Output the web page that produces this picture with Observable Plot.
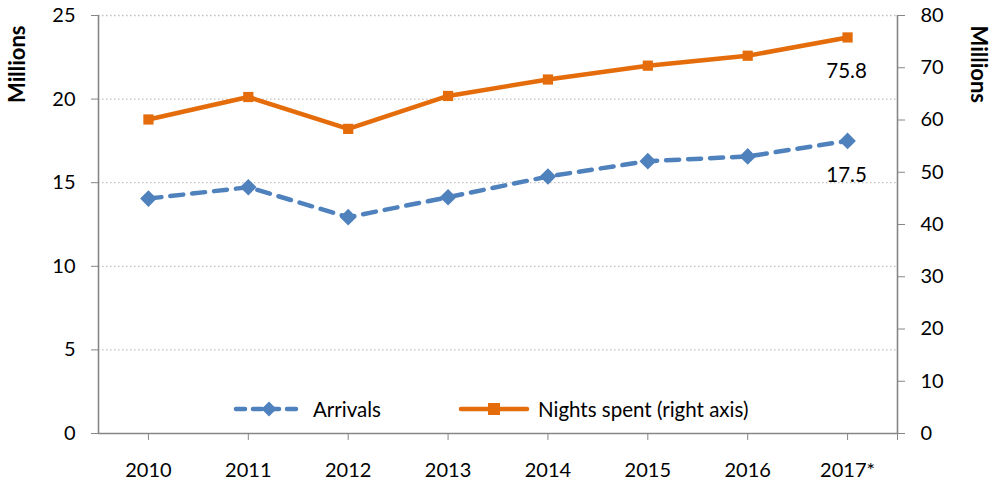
<!DOCTYPE html>
<html>
<head>
<meta charset="utf-8">
<script src="https://cdn.jsdelivr.net/npm/d3@7"></script>
<script src="https://cdn.jsdelivr.net/npm/@observablehq/plot@0.6"></script>
<style>
  html, body { margin: 0; padding: 0; background: #fff; }
  #wrap { position: relative; width: 992px; height: 486px; font-family: Lato, "Open Sans", sans-serif; }
  .legend { position: absolute; top: 397px; display: flex; align-items: center; font-size: 20.5px; color: #000; }
  .legend svg { display: block; margin-right: 8px; }
</style>
</head>
<body>
<div id="wrap"></div>
<script>
const years = ["2010", "2011", "2012", "2013", "2014", "2015", "2016", "2017*"];
const arrivals = [14.05, 14.73, 12.94, 14.13, 15.37, 16.29, 16.57, 17.5];
const nights = [60.1, 64.4, 58.3, 64.6, 67.75, 70.4, 72.3, 75.8];
const leftTicks = [0, 5, 10, 15, 20, 25];
const rightTicks = [0, 10, 20, 30, 40, 50, 60, 70, 80];
const leftMax = 25, rightMax = 80;
const k = leftMax / rightMax;

const blue = "#4f81bd", orange = "#e46c0a", axisGrey = "#868686";

const rowsA = years.map((y, i) => ({i, year: y, v: arrivals[i]}));
const rowsN = years.map((y, i) => ({i, year: y, v: nights[i], vs: nights[i] * k}));
const lastA = rowsA.slice(-1), lastN = rowsN.slice(-1);
const xTicks = d3.range(years.length).concat([years.length - 0.5]);

const chart = Plot.plot({
  width: 992, height: 486,
  marginLeft: 98, marginRight: 95, marginTop: 15, marginBottom: 53,
  style: {fontFamily: "Lato, 'Open Sans', sans-serif", fontSize: "20px", color: "#000", background: "#fff"},
  x: {type: "linear", domain: [-0.5, years.length - 0.5]},
  y: {type: "linear", domain: [0, leftMax]},
  marks: [
    Plot.ruleY(leftTicks.filter(d => d > 0), {stroke: "#bfbfbf", strokeWidth: 1.3, strokeDasharray: "1.5,2.5", strokeOpacity: 1}),
    Plot.axisY({anchor: "left", ticks: leftTicks, tickSize: 7, tickPadding: 16, label: null, stroke: axisGrey, fontSize: 20}),
    Plot.axisY({anchor: "right", ticks: rightTicks.map(d => d * k), tickFormat: d => String(Math.round(d / k)), tickSize: 7, tickPadding: 16, label: null, stroke: axisGrey, fontSize: 20}),
    Plot.axisX({ticks: xTicks, tickFormat: i => Number.isInteger(i) ? years[i] : "", tickSize: 7, tickPadding: 22, label: null, stroke: axisGrey, fontSize: 20}),
    Plot.ruleX([-0.5], {stroke: axisGrey, strokeWidth: 1.6}),
    Plot.ruleX([years.length - 0.5], {stroke: axisGrey, strokeWidth: 1.6}),
    Plot.ruleY([0], {stroke: axisGrey, strokeWidth: 1.6}),
    Plot.line(rowsA, {x: "i", y: "v", stroke: blue, strokeWidth: 4.5, strokeDasharray: "13,9", strokeLinecap: "round", strokeLinejoin: "round"}),
    Plot.dot(rowsA, {x: "i", y: "v", symbol: "diamond2", r: 7.5, fill: blue, stroke: null}),
    Plot.line(rowsN, {x: "i", y: "vs", stroke: orange, strokeWidth: 4.5, strokeLinejoin: "round"}),
    Plot.dot(rowsN, {x: "i", y: "vs", symbol: "square2", r: 6.5, fill: orange, stroke: null}),
    Plot.text(lastN, {x: "i", y: "vs", text: d => d.v.toFixed(1), dx: -1, dy: 34, fontSize: 20.5, fill: "#000"}),
    Plot.text(lastA, {x: "i", y: "v", text: d => d.v.toFixed(1), dx: -1, dy: 35, fontSize: 20.5, fill: "#000"}),
    Plot.text(["Millions"], {frameAnchor: "top-left", text: d => d, rotate: -90, textAnchor: "end", lineAnchor: "middle", dx: -81, dy: 10, fontSize: 22, fontWeight: "bold", fill: "#000"}),
    Plot.text(["Millions"], {frameAnchor: "top-right", text: d => d, rotate: 90, textAnchor: "start", lineAnchor: "middle", dx: 81, dy: 10, fontSize: 22, fontWeight: "bold", fill: "#000"})
  ]
});

const wrap = document.getElementById("wrap");
wrap.appendChild(chart);

function legendItem(left, swatchW, color, dash, symbol, label) {
  const div = document.createElement("div");
  div.className = "legend";
  div.style.left = left + "px";
  const w = swatchW, h = 20, c = w / 2;
  let marker;
  if (symbol === "diamond") {
    marker = `<path d="M${c},${h/2-7.5} L${c+7.5},${h/2} L${c},${h/2+7.5} L${c-7.5},${h/2} Z" fill="${color}"/>`;
  } else {
    marker = `<rect x="${c-6}" y="${h/2-6}" width="12" height="12" fill="${color}"/>`;
  }
  div.innerHTML = `<svg width="${w}" height="${h}"><line x1="3" x2="${w-3}" y1="${h/2}" y2="${h/2}" stroke="${color}" stroke-width="4.5" stroke-linecap="round" ${dash ? `stroke-dasharray="${dash}"` : ""}/>${marker}</svg><span>${label}</span>`;
  wrap.appendChild(div);
}
legendItem(233, 72, blue, "9,8", "diamond", "Arrivals");
legendItem(458, 72, orange, null, "square", "Nights spent (right axis)");
</script>
</body>
</html>
